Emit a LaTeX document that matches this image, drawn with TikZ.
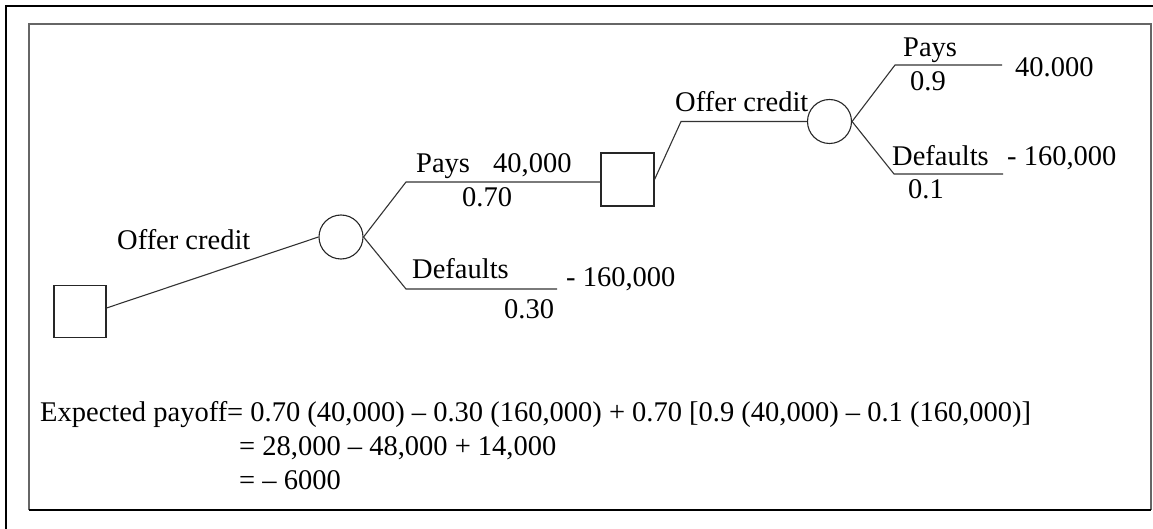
\documentclass[tikz,border=0pt]{standalone}
\usepackage{fontspec}
\setmainfont{Liberation Serif}
\begin{document}
\begin{tikzpicture}[x=1pt,y=-1pt,
  lbl/.style={inner sep=0pt, anchor=base west, font=\fontsize{28.5}{33}\selectfont},
  br/.style={line width=1.1pt, draw=black!80},
  decbox/.style={draw=black!85, line width=1.1pt, inner sep=0pt, minimum width=52pt, minimum height=52pt},
  chance/.style={draw=black!85, line width=1.1pt, circle, inner sep=0pt, minimum size=44pt}]
\useasboundingbox (0,0) rectangle (1153,529);
% frames
\draw[line width=2.2pt, black] (6,529) -- (6,6) -- (1153,6);
\draw[line width=1.4pt, black!60] (29,510) -- (29,24) -- (1151,24) -- (1151,510);
\draw[line width=1.8pt, black] (29,510) -- (1151,510);
% nodes
\node[decbox] (d1) at (80,311.5) {};
\node[chance] (c1) at (341,237) {};
\node[decbox, minimum width=53pt, minimum height=53pt] (d2) at (627.5,179.5) {};
\node[chance] (c2) at (829.5,121.5) {};
\coordinate (p1) at (406,182);
\coordinate (p2) at (406,289);
\coordinate (e2) at (557,289);
\coordinate (p3) at (681,121.5);
\coordinate (p4) at (895,65);
\coordinate (e3) at (1002,65);
\coordinate (p5) at (894,174);
\coordinate (e4) at (1003,174);
% connectors
\draw[br] ([yshift=3.5pt]d1.east) -- (c1.west);
\draw[br] (c1.east) -- (p1) -- (p1 -| d2.west);
\draw[br] (c1.east) -- (p2) -- (e2);
\draw[br] (d2.east) -- (p3) -- (c2.west);
\draw[br] (c2.east) -- (p4) -- (e3);
\draw[br] (c2.east) -- (p5) -- (e4);
% labels
\node[lbl] (t1) at (117,250) {Offer credit};
\node[lbl] (t2) at (416,173) {Pays};
\node[lbl] (t3) at (493,173) {40,000};
\node[lbl] (t4) at (462,207) {0.70};
\node[lbl] (t5) at (412,278) {Defaults};
\node[lbl] (t6) at (566,287) {- 160,000};
\node[lbl] (t7) at (504,318) {0.30};
\node[lbl] (t8) at (675,112) {Offer credit};
\node[lbl] (t9) at (903,57) {Pays};
\node[lbl] (t10) at (910,91) {0.9};
\node[lbl] (t11) at (1015,77) {40.000};
\node[lbl] (t12) at (892,166) {Defaults};
\node[lbl] (t13) at (1007,166) {- 160,000};
\node[lbl] (t14) at (908,199) {0.1};
% equation
\node[lbl] (eq1) at (40,421) {Expected payoff= 0.70 (40,000) – 0.30 (160,000) + 0.70 [0.9 (40,000) – 0.1 (160,000)]};
\node[lbl] (eq2) at (239,455) {= 28,000 – 48,000 + 14,000};
\node[lbl] (eq3) at (239,489) {= – 6000};
\end{tikzpicture}
\end{document}
